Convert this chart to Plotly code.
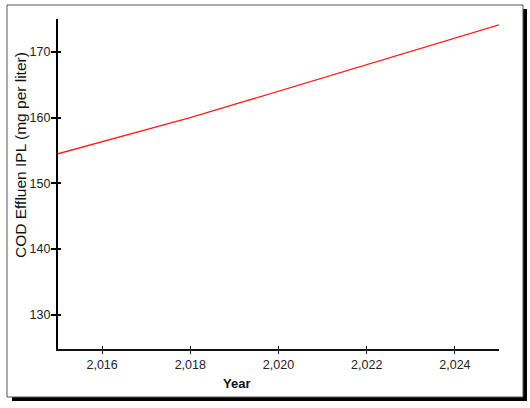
import plotly.graph_objects as go

years = [2015, 2016, 2017, 2018, 2019, 2020, 2021, 2022, 2023, 2024, 2025]
cod_effluent = [154.5, 156.3, 158.2, 160.0, 162.0, 164.0, 166.1, 168.1, 170.1, 172.1, 174.1]

x_title = "Year"
y_title = "COD Effluen IPL (mg per liter)"

W, H = 530, 408
L, R, T, B = 58, 31, 19, 59
pw, ph = W - L - R, H - T - B


def px_x(p):
    return (p - L) / pw


def px_y(p):
    return (H - B - p) / ph


fig = go.Figure()
fig.add_trace(go.Scatter(x=years, y=cod_effluent, mode="lines",
                         line=dict(color="#ff1a1a", width=1.3),
                         hoverinfo="x+y", showlegend=False))
# invisible trace so the overlay axes (inner half of ticks) get drawn
fig.add_trace(go.Scatter(x=[years[0]], y=[cod_effluent[0]], xaxis="x2", yaxis="y2",
                         mode="markers", marker=dict(opacity=0), hoverinfo="skip",
                         showlegend=False))

tickfont = dict(family="Liberation Sans, Arial", size=12.5, color="#222")
fig.update_layout(
    width=W, height=H,
    margin=dict(l=L, r=R, t=T, b=B),
    paper_bgcolor="white", plot_bgcolor="white",
    font=dict(family="Liberation Sans, Arial", color="#111"),
    xaxis=dict(range=[2015, 2025], dtick=2, tick0=2016, tickformat=",d",
               showgrid=False, zeroline=False, showline=True, linecolor="#111",
               linewidth=1.5, ticks="outside", ticklen=3, tickwidth=1,
               tickcolor="#111", tickfont=tickfont),
    yaxis=dict(range=[124.8, 175], dtick=10, tick0=130,
               showgrid=False, zeroline=False, showline=True, linecolor="#000",
               linewidth=2.2, ticks="outside", ticklen=5, tickwidth=1.5,
               tickcolor="#000", tickfont=tickfont, ticklabelstandoff=-2),
    xaxis2=dict(overlaying="x", matches="x", anchor="y", dtick=2, tick0=2016,
                showgrid=False, zeroline=False, showline=False, ticks="inside",
                ticklen=3, tickwidth=1, tickcolor="#111", showticklabels=False),
    yaxis2=dict(overlaying="y", matches="y", anchor="x", dtick=10, tick0=130,
                showgrid=False, zeroline=False, showline=False, ticks="inside",
                ticklen=3, tickwidth=1.5, tickcolor="#000", showticklabels=False),
    annotations=[
        dict(text="<b>" + x_title + "</b>", xref="paper", yref="paper",
             x=px_x(236.5), y=px_y(383), xanchor="center", yanchor="middle",
             showarrow=False, font=dict(size=13, color="#111")),
        dict(text=y_title, xref="paper", yref="paper", textangle=-90,
             x=px_x(20), y=px_y(155), xanchor="center", yanchor="middle",
             showarrow=False, font=dict(size=15.5, color="#111")),
    ],
    shapes=[
        # drop shadow of the frame
        dict(type="rect", xref="paper", yref="paper", layer="below",
             x0=px_x(523), x1=px_x(527), y0=px_y(401), y1=px_y(9),
             fillcolor="black", line=dict(width=0)),
        dict(type="rect", xref="paper", yref="paper", layer="below",
             x0=px_x(12), x1=px_x(527), y0=px_y(401), y1=px_y(397),
             fillcolor="black", line=dict(width=0)),
        # frame
        dict(type="rect", xref="paper", yref="paper", layer="below",
             x0=px_x(7), x1=px_x(523), y0=px_y(397), y1=px_y(5),
             line=dict(color="#555", width=1)),
    ],
)

fig.write_html("out.html", config={"displayModeBar": False},
               post_script="document.body.style.margin='0';")
